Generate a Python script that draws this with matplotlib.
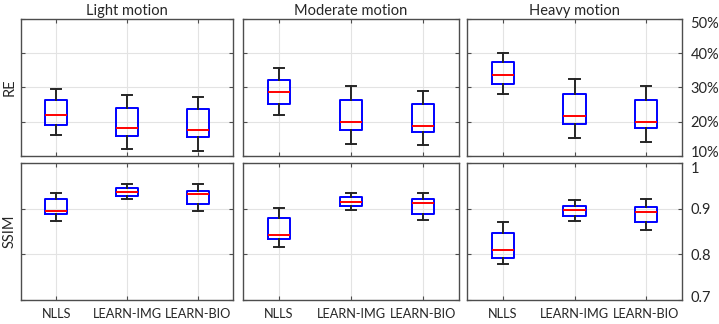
import matplotlib
matplotlib.use("Agg")
import matplotlib.pyplot as plt
import matplotlib.transforms as mtransforms
from matplotlib.ticker import FixedLocator

plt.rcParams['font.family'] = ['Lato', 'DejaVu Sans']

methods = ['NLLS', 'LEARN-IMG', 'LEARN-BIO']
motions = ['Light motion', 'Moderate motion', 'Heavy motion']

# RE (%) per motion level: [whislo, q1, med, q3, whishi] for each method
re_light = [[16.0, 19.0, 22.0, 26.3, 29.5],
            [12.1, 15.9, 18.1, 24.1, 27.9],
            [11.4, 15.4, 17.5, 23.6, 27.3]]
re_moderate = [[22.0, 25.1, 28.6, 32.2, 35.7],
               [13.5, 17.6, 19.8, 26.3, 30.5],
               [13.0, 17.0, 18.6, 25.1, 28.9]]
re_heavy = [[28.0, 31.0, 33.7, 37.3, 40.1],
            [15.3, 19.4, 21.6, 28.2, 32.5],
            [14.1, 18.0, 20.0, 26.4, 30.5]]

# SSIM per motion level
ssim_light = [[0.874, 0.888, 0.896, 0.921, 0.934],
              [0.922, 0.929, 0.936, 0.945, 0.954],
              [0.895, 0.910, 0.933, 0.940, 0.954]]
ssim_moderate = [[0.816, 0.833, 0.843, 0.880, 0.902],
                 [0.897, 0.906, 0.915, 0.925, 0.934],
                 [0.875, 0.889, 0.912, 0.921, 0.935]]
ssim_heavy = [[0.779, 0.793, 0.809, 0.846, 0.872],
              [0.874, 0.884, 0.898, 0.907, 0.920],
              [0.853, 0.870, 0.893, 0.904, 0.921]]

re_data = [re_light, re_moderate, re_heavy]
ssim_data = [ssim_light, ssim_moderate, ssim_heavy]

re_ticks = [10, 20, 30, 40, 50]
re_ticklabels = ['10%', '20%', '30%', '40%', '50%']
ssim_ticks = [0.7, 0.8, 0.9, 1.0]
ssim_ticklabels = ['0.7', '0.8', '0.9', '1']


def to_stats(rows):
    return [dict(whislo=r[0], q1=r[1], med=r[2], q3=r[3], whishi=r[4], fliers=[])
            for r in rows]


W, H = 719, 324
fig = plt.figure(figsize=(W / 100, H / 100), dpi=100)

cols = [(21, 233), (243, 459), (467, 682)]
rows = [(19, 155.7), (163.2, 300)]
spine_col = '#4d4d4d'
txt_col = '#262626'
fs = 10.5

for ri, (data, ticks, tlabels, ylim, name) in enumerate([
        (re_data, re_ticks, re_ticklabels, (10, 50), 'RE'),
        (ssim_data, ssim_ticks, ssim_ticklabels, (0.7, 1.0), 'SSIM')]):
    for ci in range(3):
        x0, x1 = cols[ci]
        y0, y1 = rows[ri]
        ax = fig.add_axes([x0 / W, 1 - y1 / H, (x1 - x0) / W, (y1 - y0) / H])
        ax.bxp(to_stats(data[ci]), positions=[1, 2, 3], widths=0.31,
               capwidths=0.14, showfliers=False,
               boxprops=dict(color='#0000ff', linewidth=1.4),
               medianprops=dict(color='#ff0000', linewidth=1.4),
               whiskerprops=dict(color=txt_col, linewidth=1.4),
               capprops=dict(color=txt_col, linewidth=1.4))
        ax.set_xlim(0.5, 3.5)
        ax.set_ylim(*ylim)
        ax.yaxis.set_major_locator(FixedLocator(ticks))
        ax.set_xticks([1, 2, 3])
        ax.grid(True, color='#e3e3e3', linewidth=0.8)
        ax.set_axisbelow(True)
        for s in ax.spines.values():
            s.set_color(spine_col)
            s.set_linewidth(1.0)
        ax.tick_params(direction='in', length=3, color=spine_col,
                       top=True, right=True, left=True, bottom=True,
                       labelsize=fs, labelcolor=txt_col)
        ax.tick_params(axis='y', labelleft=False, labelright=(ci == 2), pad=6)
        if ci == 2:
            labels = ax.set_yticklabels(tlabels)
            # nudge end labels inward like the reference
            up = mtransforms.ScaledTranslation(0, 4 / 100, fig.dpi_scale_trans)
            down = mtransforms.ScaledTranslation(0, -4 / 100, fig.dpi_scale_trans)
            labels[0].set_transform(labels[0].get_transform() + up)
            labels[-1].set_transform(labels[-1].get_transform() + down)
        if ri == 1:
            ax.set_xticklabels(methods)
            ax.tick_params(axis='x', pad=6, labelsize=9.2)
        else:
            ax.tick_params(axis='x', labelbottom=False)
            ax.set_title(motions[ci], fontsize=fs, color=txt_col, pad=3)
        if ci == 0:
            ax.set_ylabel(name, fontsize=fs, color=txt_col, labelpad=3)

fig.savefig('out.png', dpi=100)
